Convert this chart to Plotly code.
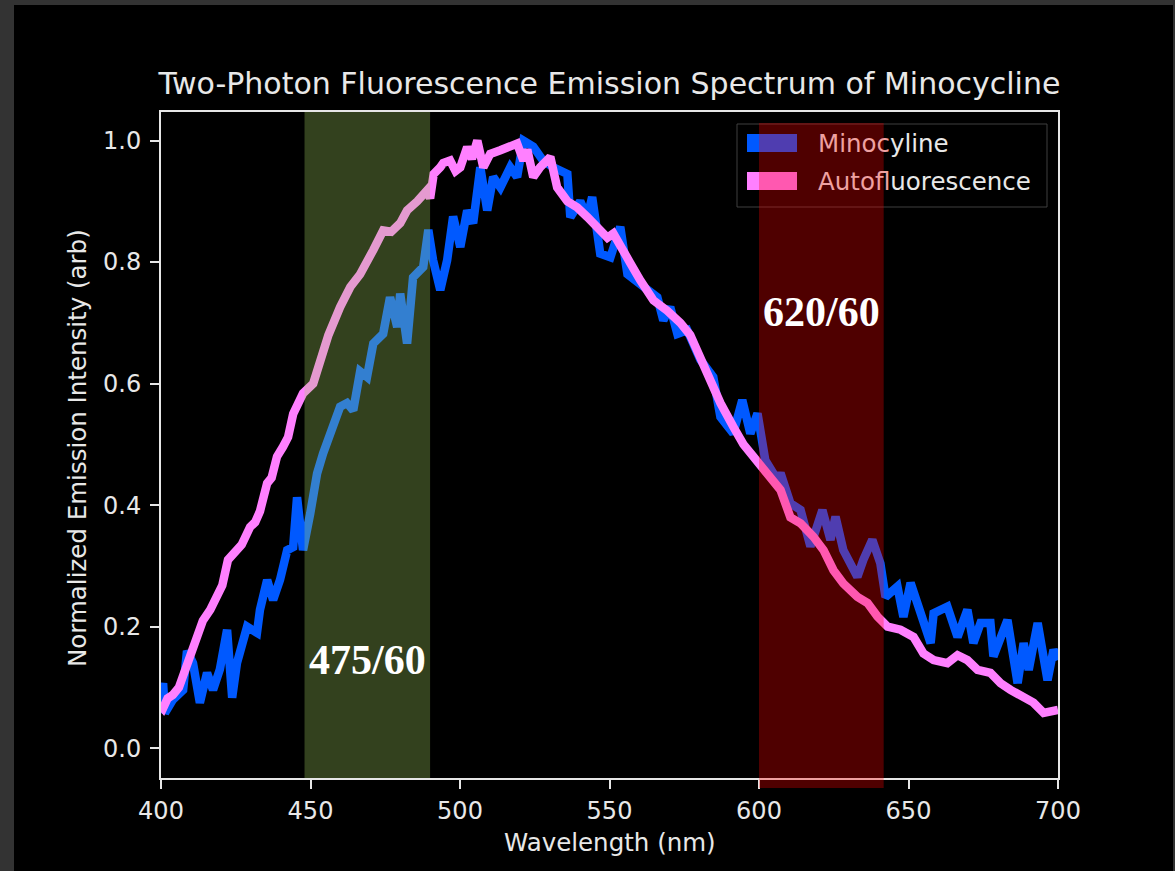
import plotly.graph_objects as go

# ---- spectra (wavelength in nm, normalized intensity) ----
mino_wl = [400.0, 400.7, 401.3, 404.0, 407.4, 408.7, 410.7, 413.0, 415.4, 417.4, 419.7, 422.1,
           423.8, 425.4, 428.8, 432.1, 433.1, 435.5, 437.5, 439.8, 442.2, 444.2, 445.5, 447.5,
           449.9, 452.2, 454.2, 456.6, 459.9, 462.2, 464.3, 466.6, 468.9, 471.0, 474.3, 476.6,
           479.0, 480.0, 482.3, 484.3, 487.7, 489.4, 491.0, 493.4, 495.7, 497.7, 500.1, 502.4,
           504.4, 506.8, 509.1, 511.1, 513.5, 516.8, 519.1, 521.2, 524.5, 527.8, 531.2, 535.9,
           536.9, 540.2, 542.6, 544.2, 546.9, 550.3, 553.6, 556.0, 560.3, 566.0, 568.0, 570.3,
           572.7, 576.0, 580.4, 584.7, 587.1, 591.4, 594.4, 597.1, 599.5, 602.1, 606.2, 607.2,
           610.5, 613.9, 617.2, 621.2, 623.9, 625.6, 628.2, 632.9, 634.9, 637.9, 640.6, 642.3,
           646.3, 648.3, 650.7, 654.0, 657.4, 658.4, 663.0, 666.4, 669.7, 671.7, 674.1, 677.4,
           678.4, 683.1, 686.5, 688.5, 690.2, 693.2, 696.5, 698.5, 700.0]
mino_val = [0.090, 0.107, 0.058, 0.080, 0.096, 0.160, 0.140, 0.075, 0.124, 0.096, 0.130, 0.195,
            0.083, 0.140, 0.200, 0.190, 0.228, 0.277, 0.244, 0.277, 0.326, 0.331, 0.413, 0.326,
            0.386, 0.452, 0.485, 0.518, 0.562, 0.568, 0.556, 0.620, 0.611, 0.666, 0.682, 0.742,
            0.693, 0.748, 0.666, 0.775, 0.792, 0.853, 0.803, 0.754, 0.803, 0.875, 0.825, 0.885,
            0.864, 0.956, 0.885, 0.940, 0.923, 0.956, 0.940, 1.000, 0.990, 0.967, 0.956, 0.945,
            0.874, 0.900, 0.874, 0.907, 0.814, 0.808, 0.858, 0.780, 0.765, 0.742, 0.704, 0.726,
            0.682, 0.688, 0.639, 0.611, 0.545, 0.518, 0.573, 0.518, 0.551, 0.474, 0.441, 0.453,
            0.403, 0.392, 0.332, 0.392, 0.343, 0.381, 0.326, 0.282, 0.310, 0.343, 0.304, 0.249,
            0.266, 0.216, 0.272, 0.222, 0.173, 0.222, 0.233, 0.183, 0.228, 0.173, 0.206, 0.206,
            0.151, 0.211, 0.107, 0.173, 0.129, 0.206, 0.112, 0.162, 0.145]

auto_wl = [400.0, 400.7, 402.2, 404.0, 406.0, 408.0, 409.7, 412.0, 414.0, 416.5, 418.7, 420.5,
           422.4, 424.8, 427.0, 429.8, 431.5, 433.1, 435.5, 437.0, 438.8, 440.8, 442.5, 444.2,
           447.5, 450.9, 453.2, 456.0, 459.9, 463.3, 466.6, 469.0, 471.0, 474.3, 477.0, 480.0,
           482.3, 485.7, 489.0, 490.0, 491.2, 493.4, 494.4, 496.7, 498.5, 500.1, 502.4, 504.0,
           505.8, 507.8, 510.1, 513.5, 515.8, 519.1, 521.2, 522.5, 524.5, 526.8, 530.2, 532.5,
           535.9, 539.2, 542.6, 545.9, 549.3, 551.3, 553.6, 557.0, 560.3, 564.7, 569.3, 573.7,
           577.0, 580.4, 583.5, 587.1, 591.4, 594.8, 598.1, 602.8, 607.2, 610.5, 613.9, 618.2,
           621.6, 624.9, 628.2, 632.9, 636.3, 639.6, 643.0, 647.3, 651.7, 655.0, 658.4, 663.0,
           666.4, 669.7, 673.1, 677.4, 680.8, 684.1, 687.5, 691.8, 695.2, 698.5, 700.0]
auto_val = [0.070, 0.066, 0.082, 0.088, 0.100, 0.128, 0.157, 0.180, 0.210, 0.228, 0.255, 0.268,
            0.310, 0.326, 0.335, 0.364, 0.372, 0.390, 0.436, 0.445, 0.480, 0.496, 0.512, 0.550,
            0.584, 0.600, 0.639, 0.680, 0.726, 0.759, 0.780, 0.800, 0.820, 0.852, 0.850, 0.864,
            0.885, 0.900, 0.918, 0.905, 0.945, 0.956, 0.963, 0.967, 0.950, 0.956, 0.989, 0.970,
            1.000, 0.956, 0.978, 0.984, 0.990, 0.995, 0.967, 0.985, 0.940, 0.956, 0.973, 0.923,
            0.900, 0.890, 0.874, 0.858, 0.840, 0.847, 0.825, 0.798, 0.770, 0.737, 0.720, 0.700,
            0.680, 0.640, 0.610, 0.568, 0.529, 0.500, 0.480, 0.453, 0.425, 0.380, 0.370, 0.348,
            0.326, 0.293, 0.271, 0.249, 0.239, 0.217, 0.200, 0.195, 0.183, 0.156, 0.145, 0.140,
            0.153, 0.145, 0.129, 0.124, 0.107, 0.096, 0.085, 0.075, 0.058, 0.063, 0.063]

series_names = ["Minocyline", "Autofluorescence"]
series_colors = ["#0059ff", "#ff80ff"]

# filter pass-bands (nm) and their labels
green_band = (448.0, 490.0)
red_band = (600.0, 641.7)
band_labels = ["475/60", "620/60"]

x_ticks = [400, 450, 500, 550, 600, 650, 700]
y_ticks = [0.0, 0.2, 0.4, 0.6, 0.8, 1.0]

# ---- page geometry ----
W, H = 1175, 871
ML, MR, MT, MB = 161, 117, 112, 93
PW, PH = W - ML - MR, H - MT - MB
X_RANGE = [400, 700]
Y_RANGE = [-0.049, 1.047]


def px_x(px):
    return (px - ML) / PW


def px_y(py):
    return (H - MB - py) / PH


def nm_to_paper(nm):
    return (nm - X_RANGE[0]) / (X_RANGE[1] - X_RANGE[0])


TEXT = "#e8e8e8"
TINT = "#eea1a1"
FONT = "DejaVu Sans"
LABEL_SIZE = 24.5

fig = go.Figure()
fig.add_trace(go.Scatter(x=mino_wl, y=mino_val, mode="lines", name=series_names[0],
                         line=dict(color=series_colors[0], width=8.5), showlegend=False))
fig.add_trace(go.Scatter(x=auto_wl, y=auto_val, mode="lines", name=series_names[1],
                         line=dict(color=series_colors[1], width=8.5), showlegend=False))

shapes = []
# window frame
shapes.append(dict(type="rect", xref="paper", yref="paper", layer="below",
                   x0=px_x(14), x1=px_x(1173), y0=px_y(5), y1=px_y(H + 5),
                   fillcolor="black", line=dict(width=0)))

# legend box and handles
shapes.append(dict(type="rect", xref="paper", yref="paper", layer="above",
                   x0=px_x(737), x1=px_x(1047), y0=px_y(207), y1=px_y(124),
                   fillcolor="rgba(0,0,0,0.8)", line=dict(color="rgba(70,70,70,0.9)", width=1)))
for i, (top, bot) in enumerate([(134, 152), (172, 190)]):
    shapes.append(dict(type="rect", xref="paper", yref="paper", layer="above",
                       x0=px_x(747), x1=px_x(797), y0=px_y(bot), y1=px_y(top),
                       fillcolor=series_colors[i], line=dict(width=0)))

# filter bands drawn over the curves
shapes.append(dict(type="rect", xref="x", yref="paper", layer="above",
                   x0=green_band[0], x1=green_band[1], y0=0, y1=1,
                   fillcolor="rgba(168,214,100,0.3)", line=dict(width=0)))
shapes.append(dict(type="rect", xref="paper", yref="paper", layer="above",
                   x0=nm_to_paper(red_band[0]), x1=nm_to_paper(red_band[1]),
                   y0=px_y(788), y1=px_y(123),
                   fillcolor="rgba(255,0,0,0.31)", line=dict(width=0)))

annotations = [
    dict(text="Wavelength (nm)", xref="paper", yref="paper", x=0.5, y=px_y(842),
         xanchor="center", yanchor="middle", showarrow=False,
         font=dict(family=FONT, size=LABEL_SIZE, color=TEXT)),
    dict(text="Normalized Emission Intensity (arb)", xref="paper", yref="paper",
         x=px_x(78), y=px_y(448), textangle=-90, xanchor="center", yanchor="middle",
         showarrow=False, font=dict(family=FONT, size=LABEL_SIZE, color=TEXT)),
    dict(text=f"<span style='color:{TINT}'>Minoc</span>yline", xref="paper", yref="paper",
         x=px_x(816), y=px_y(143), xanchor="left", yanchor="middle", showarrow=False,
         font=dict(family=FONT, size=LABEL_SIZE, color=TEXT)),
    dict(text=f"<span style='color:{TINT}'>Autof</span>luorescence", xref="paper", yref="paper",
         x=px_x(816), y=px_y(181), xanchor="left", yanchor="middle", showarrow=False,
         font=dict(family=FONT, size=LABEL_SIZE, color=TEXT)),
    dict(text=f"<b>{band_labels[0]}</b>", x=469, y=0.145, xref="x", yref="y",
         showarrow=False, xanchor="center", yanchor="middle",
         font=dict(family="Liberation Serif", size=42, color="white")),
    dict(text=f"<b>{band_labels[1]}</b>", x=621, y=0.718, xref="x", yref="y",
         showarrow=False, xanchor="center", yanchor="middle",
         font=dict(family="Liberation Serif", size=42, color="white")),
]

axis_common = dict(showline=True, linecolor="#e6e6e6", linewidth=2, mirror=True,
                   ticks="outside", ticklen=9, tickwidth=2, tickcolor="#e6e6e6",
                   showgrid=False, zeroline=False,
                   tickfont=dict(family=FONT, size=24, color=TEXT))

fig.update_layout(
    width=W, height=H,
    margin=dict(l=ML, r=MR, t=MT, b=MB),
    paper_bgcolor="#333333", plot_bgcolor="black",
    title=dict(text="Two-Photon Fluorescence Emission Spectrum of Minocycline",
               x=0.5, xref="paper", xanchor="center",
               y=1 - 83 / H, yref="container", yanchor="middle",
               font=dict(family=FONT, size=30, color=TEXT)),
    xaxis=dict(range=X_RANGE, tickvals=x_ticks, ticktext=[str(t) for t in x_ticks],
               ticklabelstandoff=1, **axis_common),
    yaxis=dict(range=Y_RANGE, tickvals=y_ticks, ticktext=[f"{t:.1f}" for t in y_ticks],
               ticklabelstandoff=4, **axis_common),
    shapes=shapes,
    annotations=annotations,
    showlegend=False,
)

fig.write_html("out.html")
